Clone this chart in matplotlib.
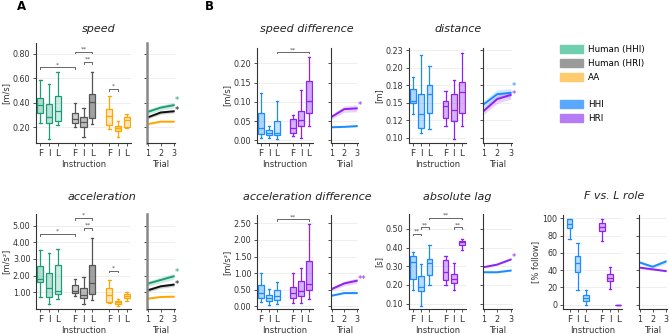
import numpy as np
import matplotlib
matplotlib.use('Agg')
import matplotlib.pyplot as plt
from matplotlib.patches import Patch
from matplotlib.ticker import FormatStrFormatter

W, H = 669, 334

instructions = ['F', 'I', 'L']
trials = [1, 2, 3]

# five-number summaries per box: [whislo, q1, med, q3, whishi] for F, I, L
speed_hhi = [[0.235, 0.32, 0.385, 0.44, 0.585], [0.10, 0.23, 0.285, 0.39, 0.55], [0.22, 0.25, 0.335, 0.455, 0.65]]
speed_hri = [[0.20, 0.235, 0.265, 0.32, 0.40], [0.12, 0.20, 0.24, 0.28, 0.36], [0.225, 0.275, 0.41, 0.47, 0.655]]
speed_aa = [[0.185, 0.215, 0.295, 0.35, 0.455], [0.12, 0.17, 0.19, 0.21, 0.25], [0.195, 0.20, 0.26, 0.28, 0.31]]
acc_hhi = [[0.72, 1.6, 1.8, 2.56, 3.56], [0.3, 0.72, 1.28, 2.16, 3.36], [0.58, 0.92, 1.06, 2.66, 3.58]]
acc_hri = [[0.8, 0.96, 1.1, 1.44, 1.8], [0.3, 0.66, 0.86, 1.26, 1.92], [0.56, 0.92, 1.56, 2.66, 4.28]]
acc_aa = [[0.34, 0.42, 0.82, 1.28, 1.74], [0.16, 0.32, 0.4, 0.5, 0.58], [0.5, 0.66, 0.8, 0.9, 1.04]]

sdiff_hhi = [[0.007, 0.017, 0.033, 0.071, 0.124], [0.007, 0.013, 0.019, 0.026, 0.036], [0.004, 0.013, 0.019, 0.05, 0.103]]
sdiff_hri = [[0.011, 0.02, 0.032, 0.055, 0.066], [0.006, 0.037, 0.054, 0.075, 0.131], [0.038, 0.07, 0.103, 0.154, 0.216]]
adiff_hhi = [[0.12, 0.25, 0.4, 0.63, 1.0], [0.05, 0.15, 0.25, 0.34, 0.52], [0.08, 0.2, 0.3, 0.48, 0.72]]
adiff_hri = [[0.11, 0.25, 0.41, 0.58, 1.0], [0.11, 0.31, 0.47, 0.75, 1.16], [0.22, 0.5, 0.67, 1.36, 2.47]]
dist_hhi = [[0.134, 0.150, 0.152, 0.169, 0.1865], [0.106, 0.114, 0.134, 0.163, 0.218], [0.1125, 0.135, 0.162, 0.175, 0.203]]
dist_hri = [[0.117, 0.128, 0.145, 0.152, 0.166], [0.098, 0.1235, 0.139, 0.162, 0.182], [0.117, 0.1345, 0.1655, 0.179, 0.221]]
lag_hhi = [[0.171, 0.232, 0.321, 0.354, 0.377], [0.089, 0.166, 0.1875, 0.246, 0.3125], [0.202, 0.252, 0.318, 0.341, 0.4125]]
lag_hri = [[0.198, 0.225, 0.27, 0.336, 0.357], [0.173, 0.211, 0.232, 0.259, 0.316], [0.386, 0.416, 0.429, 0.4375, 0.448]]
role_hhi = [[76, 89, 94, 99, 99], [17, 38, 48, 56, 72], [0, 3.8, 7.7, 11.5, 16.5]]
role_hri = [[74, 85, 90, 95, 99], [18, 27, 31.5, 36, 43.5], [0, 0, 0, 0, 0]]

# trial means and band half-widths
speed_tr_hhi, speed_ci_hhi = [0.325, 0.36, 0.38], [0.02, 0.022, 0.022]
speed_tr_hri, speed_ci_hri = [0.28, 0.32, 0.33], [0.012, 0.013, 0.013]
speed_tr_aa, speed_ci_aa = [0.225, 0.245, 0.245], [0.006, 0.006, 0.006]
acc_tr_hhi, acc_ci_hhi = [1.52, 1.74, 1.96], [0.15, 0.17, 0.18]
acc_tr_hri, acc_ci_hri = [1.12, 1.36, 1.46], [0.1, 0.11, 0.11]
acc_tr_aa, acc_ci_aa = [0.62, 0.72, 0.74], [0.04, 0.04, 0.04]
sdiff_tr_hhi, sdiff_ci_hhi = [0.034, 0.035, 0.037], [0.002, 0.002, 0.003]
sdiff_tr_hri, sdiff_ci_hri = [0.061, 0.081, 0.083], [0.006, 0.008, 0.009]
adiff_tr_hhi, adiff_ci_hhi = [0.32, 0.40, 0.40], [0.02, 0.03, 0.03]
adiff_tr_hri, adiff_ci_hri = [0.52, 0.69, 0.77], [0.05, 0.07, 0.08]
dist_tr_hhi, dist_ci_hhi = [0.1476, 0.162, 0.164], [0.005, 0.006, 0.006]
dist_tr_hri, dist_ci_hri = [0.138, 0.155, 0.161], [0.005, 0.006, 0.006]
lag_tr_hhi, lag_ci_hhi = [0.268, 0.268, 0.277], [0.004, 0.004, 0.004]
lag_tr_hri, lag_ci_hri = [0.295, 0.309, 0.336], [0.004, 0.004, 0.005]
role_tr_hhi, role_ci_hhi = [49, 44, 50], [1.5, 2.0, 2.5]
role_tr_hri, role_ci_hri = [43, 41, 39], [1.0, 1.0, 1.0]

GREEN, GRAY, ORANGE = '#1b9e77', '#555555', '#ffa600'
BLUE, PURPLE = '#1a8cff', '#8f22f0'
LINE_BLACK = '#111111'

plt.rcParams['font.family'] = 'DejaVu Sans'
fig = plt.figure(figsize=(W / 100, H / 100), dpi=100)


def px_axes(l, t, r, b):
    return fig.add_axes([l / W, 1 - b / H, (r - l) / W, (b - t) / H])


def style(ax):
    for s in ['top', 'right']:
        ax.spines[s].set_visible(False)
    for s in ['left', 'bottom']:
        ax.spines[s].set_color('#333333')
        ax.spines[s].set_linewidth(0.8)
    ax.tick_params(labelsize=5.8, length=2.5, width=0.6, pad=1.5, colors='#333333')
    ax.grid(axis='y', color='#ececec', lw=0.6)
    ax.set_axisbelow(True)


def boxes(ax, groups, colors, alphas, ylim, yticks):
    style(ax)
    ticks, labels = [], []
    for g, (stats, col, al) in enumerate(zip(groups, colors, alphas)):
        pos = [g * 4 + i for i in range(3)]
        for p, s, a in zip(pos, stats, al):
            d = [dict(whislo=s[0], q1=s[1], med=s[2], q3=s[3], whishi=s[4])]
            ax.bxp(d, positions=[p], widths=0.7, capwidths=0.3, patch_artist=True,
                   showfliers=False, manage_ticks=False,
                   boxprops=dict(facecolor=matplotlib.colors.to_rgba(col, a), edgecolor=col, lw=0.9),
                   medianprops=dict(color=col, lw=0.9),
                   whiskerprops=dict(color=col, lw=0.9),
                   capprops=dict(color=col, lw=0.9))
        ticks += pos
        labels += instructions
    ax.set_xticks(ticks)
    ax.set_xticklabels(labels, fontsize=6.5)
    ax.set_xlim(-0.5, 4 * len(groups) - 1.5)
    ax.set_ylim(*ylim)
    ax.set_yticks(yticks)
    ax.set_xlabel('Instruction', fontsize=6, labelpad=1.5, color='#333333')


def lines(ax, series, ylim, yticks, stars, gray_spine=False):
    style(ax)
    for mean, ci, col in series:
        m, c = np.array(mean), np.array(ci)
        ax.fill_between(trials, m - c, m + c, color=col, alpha=0.2, lw=0)
        ax.plot(trials, m, color=col, lw=1.4)
    for (txt, col, y) in stars:
        ax.text(3.08, y, txt, color=col, fontsize=6, ha='left', va='center', clip_on=False)
    ax.set_xlim(0.95, 3.1)
    ax.set_xticks(trials)
    ax.set_ylim(*ylim)
    ax.set_yticks(yticks)
    ax.set_yticklabels([])
    ax.set_xlabel('Trial', fontsize=6, labelpad=1.5, color='#333333')
    if gray_spine:
        ax.spines['left'].set_color('#888888')
        ax.spines['left'].set_linewidth(1.8)


def bracket(ax, x1, x2, y, txt, h):
    ax.plot([x1, x1, x2, x2], [y - h, y, y, y - h], color='#666666', lw=0.7)
    ax.text((x1 + x2) / 2, y, txt, ha='center', va='bottom', fontsize=4.5, color='#555555')


# ---- A: speed
ax = px_axes(36, 43, 131, 143)
boxes(ax, [speed_hhi, speed_hri, speed_aa], [GREEN, GRAY, ORANGE],
      [[0.35, 0.3, 0.2], [0.3, 0.4, 0.55], [0.25, 0.4, 0.25]], (0.07, 0.89), [0.2, 0.4, 0.6, 0.8])
ax.yaxis.set_major_formatter(FormatStrFormatter('%.2f'))
ax.set_ylabel('[m/s]', fontsize=6, labelpad=2, color='#333333')
bracket(ax, 0, 4, 0.69, '*', 0.015)
bracket(ax, 4, 6, 0.82, '**', 0.015)
bracket(ax, 5, 6, 0.735, '**', 0.015)
bracket(ax, 8, 9, 0.515, '*', 0.015)
ax = px_axes(147, 43, 175, 143)
lines(ax, [(speed_tr_hhi, speed_ci_hhi, GREEN), (speed_tr_hri, speed_ci_hri, LINE_BLACK),
           (speed_tr_aa, speed_ci_aa, ORANGE)], (0.07, 0.89), [0.2, 0.4, 0.6, 0.8],
      [('*', GREEN, 0.415), ('*', LINE_BLACK, 0.34)], gray_spine=True)

# ---- A: acceleration
ax = px_axes(36, 214, 131, 309)
boxes(ax, [acc_hhi, acc_hri, acc_aa], [GREEN, GRAY, ORANGE],
      [[0.35, 0.3, 0.2], [0.3, 0.4, 0.55], [0.25, 0.4, 0.25]], (0, 5.7), [1, 2, 3, 4, 5])
ax.yaxis.set_major_formatter(FormatStrFormatter('%.2f'))
ax.set_ylabel('[m/s²]', fontsize=6, labelpad=2, color='#333333')
bracket(ax, 0, 4, 4.5, '*', 0.1)
bracket(ax, 4, 6, 5.46, '*', 0.1)
bracket(ax, 5, 6, 4.86, '**', 0.1)
bracket(ax, 8, 9, 2.3, '*', 0.1)
ax = px_axes(147, 214, 175, 309)
lines(ax, [(acc_tr_hhi, acc_ci_hhi, GREEN), (acc_tr_hri, acc_ci_hri, LINE_BLACK),
           (acc_tr_aa, acc_ci_aa, ORANGE)], (0, 5.7), [1, 2, 3, 4, 5],
      [('*', GREEN, 2.2), ('*', LINE_BLACK, 1.5)], gray_spine=True)

# ---- B: speed difference
ax = px_axes(257, 48, 313, 143)
boxes(ax, [sdiff_hhi, sdiff_hri], [BLUE, PURPLE], [[0.35, 0.25, 0.25], [0.35, 0.35, 0.4]],
      (-0.007, 0.24), [0, 0.05, 0.1, 0.15, 0.2])
ax.yaxis.set_major_formatter(FormatStrFormatter('%.2f'))
ax.set_ylabel('[m/s]', fontsize=6, labelpad=2, color='#333333')
bracket(ax, 2, 6, 0.229, '**', 0.003)
ax = px_axes(331, 48, 358, 143)
lines(ax, [(sdiff_tr_hhi, sdiff_ci_hhi, BLUE), (sdiff_tr_hri, sdiff_ci_hri, PURPLE)],
      (-0.007, 0.24), [0, 0.05, 0.1, 0.15, 0.2], [('*', PURPLE, 0.09)])

# ---- B: acceleration difference
ax = px_axes(257, 215, 313, 309)
boxes(ax, [adiff_hhi, adiff_hri], [BLUE, PURPLE], [[0.35, 0.25, 0.25], [0.35, 0.35, 0.4]],
      (-0.08, 2.75), [0, 0.5, 1, 1.5, 2, 2.5])
ax.yaxis.set_major_formatter(FormatStrFormatter('%.2f'))
ax.set_ylabel('[m/s²]', fontsize=6, labelpad=2, color='#333333')
bracket(ax, 2, 6, 2.62, '**', 0.04)
ax = px_axes(331, 215, 358, 309)
lines(ax, [(adiff_tr_hhi, adiff_ci_hhi, BLUE), (adiff_tr_hri, adiff_ci_hri, PURPLE)],
      (-0.08, 2.75), [0, 0.5, 1, 1.5, 2, 2.5], [('**', PURPLE, 0.8)])

# ---- B: distance
ax = px_axes(409, 48, 466, 143)
boxes(ax, [dist_hhi, dist_hri], [BLUE, PURPLE], [[0.35, 0.3, 0.3], [0.35, 0.35, 0.35]],
      (0.0923, 0.228), [0.1, 0.125, 0.15, 0.175, 0.2, 0.225])
ax.set_yticklabels(['0.10', '0.12', '0.15', '0.18', '0.20', '0.23'])
ax.set_ylabel('[m]', fontsize=6, labelpad=2, color='#333333')
ax = px_axes(483, 48, 512, 143)
lines(ax, [(dist_tr_hhi, dist_ci_hhi, BLUE), (dist_tr_hri, dist_ci_hri, PURPLE)],
      (0.0923, 0.228), [0.1, 0.125, 0.15, 0.175, 0.2, 0.225],
      [('*', BLUE, 0.1735), ('*', PURPLE, 0.162)])

# ---- B: absolute lag
ax = px_axes(409, 214, 466, 309)
boxes(ax, [lag_hhi, lag_hri], [BLUE, PURPLE], [[0.35, 0.3, 0.3], [0.35, 0.35, 0.35]],
      (0.071, 0.58), [0.1, 0.2, 0.3, 0.4, 0.5])
ax.yaxis.set_major_formatter(FormatStrFormatter('%.2f'))
ax.set_ylabel('[s]', fontsize=6, labelpad=2, color='#333333')
bracket(ax, 0, 1, 0.473, '**', 0.008)
bracket(ax, 1, 2, 0.51, '**', 0.008)
bracket(ax, 2, 6, 0.559, '**', 0.008)
bracket(ax, 5, 6, 0.51, '**', 0.008)
ax = px_axes(483, 214, 512, 309)
lines(ax, [(lag_tr_hhi, lag_ci_hhi, BLUE), (lag_tr_hri, lag_ci_hri, PURPLE)],
      (0.071, 0.58), [0.1, 0.2, 0.3, 0.4, 0.5], [('*', PURPLE, 0.345)])

# ---- B: F vs. L role
ax = px_axes(563, 215, 622, 309)
boxes(ax, [role_hhi, role_hri], [BLUE, PURPLE], [[0.35, 0.3, 0.3], [0.35, 0.35, 0.35]],
      (-5, 104), [0, 20, 40, 60, 80, 100])
ax.set_xlim(-0.8, 6.45)
ax.set_ylabel('[% follow]', fontsize=6, labelpad=2, color='#333333')
ax = px_axes(639, 215, 667, 309)
lines(ax, [(role_tr_hhi, role_ci_hhi, BLUE), (role_tr_hri, role_ci_hri, PURPLE)],
      (-5, 104), [0, 20, 40, 60, 80, 100], [])

# titles and panel letters
titles = [('speed', 99, 29), ('acceleration', 102, 197), ('speed difference', 307, 29),
          ('acceleration difference', 307, 197), ('distance', 458, 29),
          ('absolute lag', 457, 197), ('F vs. L role', 614, 196)]
for t, x, y in titles:
    fig.text(x / W, 1 - y / H, t, ha='center', va='center', fontsize=8, style='italic', color='#222222')
fig.text(17 / W, 1 - 7 / H, 'A', fontsize=8.5, fontweight='bold', ha='left', va='center')
fig.text(205 / W, 1 - 6 / H, 'B', fontsize=8.5, fontweight='bold', ha='left', va='center')

# legends
h1 = [Patch(color='#70cfae', label='Human (HHI)'), Patch(color='#9b9b9b', label='Human (HRI)'),
      Patch(color='#ffcb6e', label='AA')]
h2 = [Patch(color='#5aa9ff', label='HHI'), Patch(color='#b67cf5', label='HRI')]
for hs, y in [(h1, 45), (h2, 100)]:
    fig.legend(handles=hs, loc='upper left', bbox_to_anchor=(560 / W, 1 - y / H), frameon=False,
               fontsize=6.3, handlelength=2.6, handleheight=1.0, handletextpad=0.6,
               labelspacing=0.55, borderaxespad=0, borderpad=0)

fig.savefig('out.png', dpi=100)
